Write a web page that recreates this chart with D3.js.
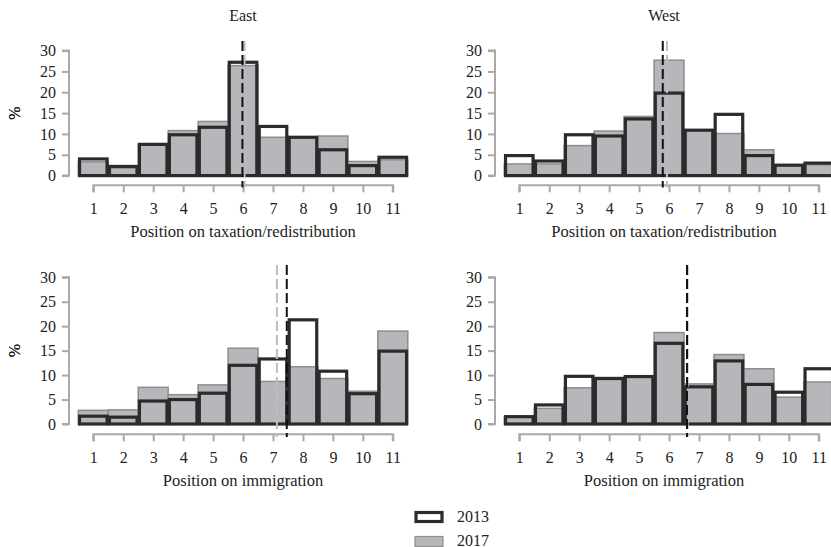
<!DOCTYPE html>
<html><head><meta charset="utf-8">
<script src="https://cdn.jsdelivr.net/npm/d3@7"></script>
<style>body{margin:0;background:#fff}svg{display:block}text{font-family:"Liberation Serif","DejaVu Serif",serif;fill:#222}</style>
</head><body><svg id="c" width="831" height="547"></svg>
<script>
const positions = [1,2,3,4,5,6,7,8,9,10,11];
const yTicks = [0,5,10,15,20,25,30];
const regions = ["East","West"];
const topics = ["Position on taxation/redistribution","Position on immigration"];
const years = ["2013","2017"];

const eastTax2013 = [4.0,2.2,7.5,9.8,11.6,27.2,11.8,9.2,6.2,2.4,4.4];
const eastTax2017 = [3.3,1.8,7.5,10.8,13.0,26.4,9.2,9.2,9.5,3.4,3.8];
const westTax2013 = [4.8,3.5,9.8,9.5,13.6,19.8,10.9,14.7,4.8,2.5,3.0];
const westTax2017 = [2.8,2.8,7.2,10.7,14.2,27.7,10.9,10.1,6.2,2.5,2.6];
const eastImm2013 = [1.6,1.4,4.7,5.0,6.3,12.0,13.3,21.3,10.8,6.2,14.9];
const eastImm2017 = [2.8,2.9,7.5,6.0,8.0,15.5,8.7,11.7,9.3,6.7,19.0];
const westImm2013 = [1.5,3.9,9.75,9.3,9.7,16.5,7.6,12.9,8.1,6.5,11.3];
const westImm2017 = [1.4,3.2,7.4,9.5,9.7,18.7,8.2,14.2,11.3,5.5,8.6];
// means: [2013, 2017]
const eastTaxMean = [5.98,6.05];
const westTaxMean = [5.79,5.93];
const eastImmMean = [7.46,7.13];
const westImmMean = [6.60,6.62];

const svg = d3.select("#c");
const BLACK = "#2b2b2b", GRAYF = "#b6b7ba", GRAYS = "#8e8e8e", AXIS = "#a9a9a9";
const FS = 16;

const rows = [
  {y0:175.6, y30:50.6, xAxisY:185.3, tickLblY:213, titleY:237, lineTop:32.3, lineBot:187.5},
  {y0:424.0, y30:277.3, xAxisY:434.3, tickLblY:461, titleY:486, lineTop:32.5, lineBot:437}
];
const cols = [{x1:93.3, yAxisX:69, center:243},{x1:519.3, yAxisX:495, center:664}];

const panels = [
  {r:0,c:0,d13:eastTax2013,d17:eastTax2017,m:eastTaxMean},
  {r:0,c:1,d13:westTax2013,d17:westTax2017,m:westTaxMean},
  {r:1,c:0,d13:eastImm2013,d17:eastImm2017,m:eastImmMean},
  {r:1,c:1,d13:westImm2013,d17:westImm2017,m:westImmMean}
];

panels.forEach(p=>{
  const R = rows[p.r], C = cols[p.c];
  const x = d3.scaleLinear().domain([1,11]).range([C.x1, C.x1+29.95*10]);
  const y = d3.scaleLinear().domain([0,30]).range([R.y0, R.y30]);
  const g = svg.append("g");

  // y axis
  const ya = g.append("g").attr("transform",`translate(${C.yAxisX},0)`)
    .call(d3.axisLeft(y).tickValues(yTicks).tickSize(7).tickPadding(6));
  ya.select(".domain").attr("stroke",AXIS).attr("stroke-width",2).attr("d",`M-7,${R.y30}H0V${R.y0}H-7`);
  ya.selectAll(".tick line").attr("stroke",AXIS).attr("stroke-width",2);
  ya.selectAll(".tick text").attr("font-size",FS).attr("fill","#222");

  // x axis
  const xa = g.append("g").attr("transform",`translate(0,${R.xAxisY})`)
    .call(d3.axisBottom(x).tickValues(positions).tickSize(7).tickPadding(10));
  xa.select(".domain").attr("stroke",AXIS).attr("stroke-width",2).attr("d",`M${x(1)},7V0H${x(11)}V7`);
  xa.selectAll(".tick line").attr("stroke",AXIS).attr("stroke-width",2);
  xa.selectAll(".tick text").attr("font-size",FS).attr("fill","#222");

  // bars 2017
  g.selectAll("rect.b17").data(p.d17).join("rect").attr("class","b17")
    .attr("x",(d,i)=>x(positions[i]-0.5)).attr("width",x(1.5)-x(0.5))
    .attr("y",d=>y(d)).attr("height",d=>y(0)-y(d))
    .attr("fill",GRAYF).attr("stroke",GRAYS).attr("stroke-width",1.5);
  // bars 2013 outlines
  g.selectAll("rect.b13").data(p.d13).join("rect").attr("class","b13")
    .attr("x",(d,i)=>x(positions[i]-0.5)+1.2).attr("width",x(1.5)-x(0.5)-2.4)
    .attr("y",d=>y(d)).attr("height",d=>y(0)-y(d))
    .attr("fill","none").attr("stroke",BLACK).attr("stroke-width",3.2);

  // mean lines
  g.append("line").attr("x1",x(p.m[1])).attr("x2",x(p.m[1]))
    .attr("y1",y(R.lineTop)).attr("y2",R.lineBot)
    .attr("stroke","#bdbdbd").attr("stroke-width",2).attr("stroke-dasharray","10,4");
  g.append("line").attr("x1",x(p.m[0])).attr("x2",x(p.m[0]))
    .attr("y1",y(R.lineTop)).attr("y2",R.lineBot)
    .attr("stroke","#111").attr("stroke-width",2).attr("stroke-dasharray","10,4");

  // y label
  g.append("text").attr("transform",`translate(20,${(R.y0+R.y30)/2}) rotate(-90)`)
    .attr("text-anchor","middle").attr("font-size",FS).text("%");
  // x title
  g.append("text").attr("x",C.center).attr("y",R.titleY).attr("text-anchor","middle")
    .attr("font-size",16.5).text(topics[p.r]);
  if(p.r===0){
    g.append("text").attr("x",C.center).attr("y",21).attr("text-anchor","middle")
      .attr("font-size",FS).text(regions[p.c]);
  }
});

// legend
const lg = svg.append("g");
lg.append("rect").attr("x",416).attr("y",512.5).attr("width",26).attr("height",9)
  .attr("fill","#fff").attr("stroke",BLACK).attr("stroke-width",3.2);
lg.append("rect").attr("x",415).attr("y",536.5).attr("width",28).attr("height",10)
  .attr("fill",GRAYF).attr("stroke",GRAYS).attr("stroke-width",1.2);
lg.append("text").attr("x",457).attr("y",521.5).attr("font-size",FS).text(years[0]);
lg.append("text").attr("x",457).attr("y",545.5).attr("font-size",FS).text(years[1]);
</script></body></html>
